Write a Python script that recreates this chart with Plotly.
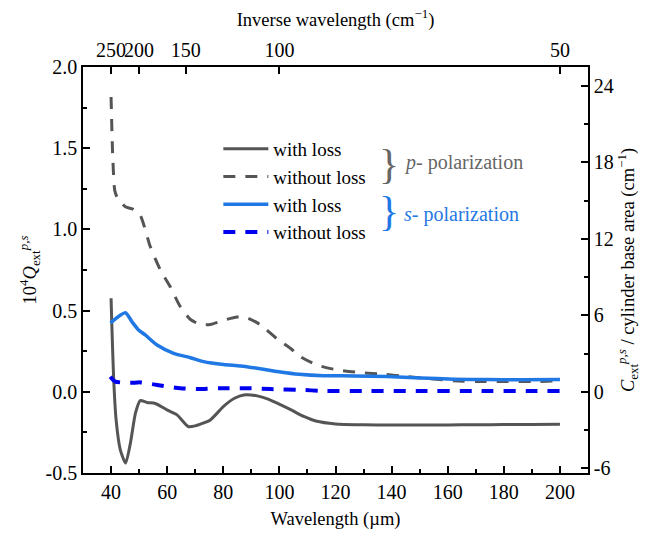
import plotly.graph_objects as go

# ---------------- data ----------------
# p-polarization, with loss (gray solid)
p_loss_x = [40, 40.3, 40.9, 41.8, 43.3, 45.2, 46.9, 48.7, 50.4, 52.8, 55.8, 59.9, 63.5,
            67.5, 70.0, 72.5, 75.4, 80.1, 84.0, 87.3, 92.1, 96.0, 99.2, 104.0, 108.7,
            113.0, 120, 130, 140, 150, 160, 170, 180, 190, 200]
p_loss_y = [0.576, 0.40, 0.093, -0.173, -0.357, -0.439, -0.316, -0.131, -0.054, -0.066,
            -0.072, -0.111, -0.142, -0.214, -0.210, -0.195, -0.173, -0.09, -0.04, -0.019,
            -0.025, -0.045, -0.07, -0.11, -0.152, -0.18, -0.198, -0.203, -0.205, -0.205,
            -0.204, -0.203, -0.202, -0.201, -0.200]

# p-polarization, without loss (gray dashed)
p_noloss_x = [40, 40.6, 41.3, 42.1, 45.1, 48.0, 50.4, 54.0, 57.6, 61.1, 64.7, 68.3, 71.8,
              75.4, 80.1, 84.9, 88.5, 93.5, 99.2, 103.9, 107.5, 113.4, 120.6, 128.9, 137.2,
              145.5, 153.9, 162.2, 170.5, 180, 190, 200]
p_noloss_y = [1.815, 1.446, 1.242, 1.20, 1.139, 1.123, 1.088, 0.893, 0.75, 0.647, 0.524,
              0.445, 0.415, 0.415, 0.44, 0.46, 0.455, 0.41, 0.325, 0.268, 0.216, 0.165,
              0.135, 0.118, 0.108, 0.094, 0.08, 0.068, 0.063, 0.063, 0.063, 0.067]

# s-polarization, with loss (blue solid)
s_loss_x = [39.8, 45.1, 47.5, 49.8, 52.2, 56.4, 62.3, 68.3, 73.0, 80.1, 86.1, 93.2, 100.4,
            107.0, 115.8, 126.5, 138.4, 150.3, 162.2, 174.1, 186.0, 200]
s_loss_y = [0.425, 0.487, 0.43, 0.381, 0.35, 0.288, 0.237, 0.21, 0.186, 0.168, 0.159,
            0.142, 0.122, 0.108, 0.099, 0.098, 0.094, 0.085, 0.078, 0.075, 0.074, 0.076]

# s-polarization, without loss (blue dashed)
s_noloss_x = [39.7, 41.5, 46.9, 50.4, 56.4, 64.7, 70.7, 79.0, 88.5, 96.8, 107.5, 115,
              130, 150, 170, 190, 200]
s_noloss_y = [0.093, 0.063, 0.055, 0.058, 0.042, 0.022, 0.017, 0.022, 0.022, 0.017,
              0.012, 0.006, 0.005, 0.005, 0.005, 0.005, 0.005]

# axes
x_range = [30, 210]
y_range = [-0.5, 2.0]
y_ticks = [-0.5, 0.0, 0.5, 1.0, 1.5, 2.0]
y_ticktext = ["-0.5", "0.0", "0.5", "1.0", "1.5", "2.0"]
right_scale = 12.74          # C_ext / base area (cm^-1) per unit of 10^4 Q_ext
right_ticks = [-6, 0, 6, 12, 18, 24]
right_ticktext = ["-6", "0", "6", "12", "18", "24"]
right_minor = [-3, 3, 9, 15, 21]
top_labels = [250, 200, 150, 100, 50]   # inverse wavelength, cm^-1

GRAY = "#555555"
GRAY_TXT = "#666666"
BLUE = "#1f78e4"
BLUE_D = "#0000f0"
FONT = "Liberation Serif, Times New Roman, serif"
FS_TICK = 20
FS_TITLE = 18.5
FS_LEG = 19
FS_POL = 20

fig = go.Figure()
fig.add_trace(go.Scatter(x=p_loss_x, y=p_loss_y, mode="lines", name="with loss",
                         line=dict(color=GRAY, width=3, shape="spline", smoothing=0.6)))
fig.add_trace(go.Scatter(x=p_noloss_x, y=p_noloss_y, mode="lines", name="without loss",
                         line=dict(color=GRAY, width=3, dash="12px,10px", shape="spline",
                                   smoothing=0.6)))
fig.add_trace(go.Scatter(x=s_loss_x, y=s_loss_y, mode="lines", name="with loss",
                         line=dict(color=BLUE, width=3.5, shape="spline", smoothing=0.6)))
fig.add_trace(go.Scatter(x=s_noloss_x, y=s_noloss_y, mode="lines", name="without loss",
                         line=dict(color=BLUE_D, width=4, dash="12px,10px", shape="spline",
                                   smoothing=0.6)))
# empty trace that creates the secondary (top / right) axes
fig.add_trace(go.Scatter(x=[None], y=[None], xaxis="x2", yaxis="y2", mode="lines",
                         showlegend=False, hoverinfo="skip"))

axis_common = dict(showline=True, linecolor="black", linewidth=1.5, ticks="inside",
                   ticklen=7, tickwidth=1.5, tickcolor="black", showgrid=False,
                   zeroline=False, tickangle=0,
                   tickfont=dict(family=FONT, size=FS_TICK, color="black"))
minor_common = dict(ticklen=4, tickwidth=1.5, ticks="inside", tickcolor="black")

fig.update_layout(
    width=649, height=537,
    margin=dict(l=83, r=61, t=67, b=64),
    paper_bgcolor="white", plot_bgcolor="white",
    font=dict(family=FONT, size=FS_TITLE, color="black"),
    showlegend=True,
    legend=dict(x=0.268, y=0.845, xanchor="left", yanchor="top",
                font=dict(family=FONT, size=FS_LEG, color="black"),
                bgcolor="rgba(0,0,0,0)", tracegroupgap=0, itemwidth=45),
    xaxis=dict(range=x_range, tick0=0, dtick=20,
               minor=dict(dtick=10, **minor_common),
               title=dict(text="Wavelength (µm)", font=dict(family=FONT, size=FS_TITLE),
                          standoff=10),
               **axis_common),
    xaxis2=dict(range=x_range, overlaying="x", side="top", anchor="y2",
                tickvals=[10000 / v for v in top_labels],
                ticktext=[str(v) for v in top_labels],
                title=dict(text="Inverse wavelength (cm<sup>−1</sup>)",
                           font=dict(family=FONT, size=FS_TITLE), standoff=8),
                **axis_common),
    yaxis=dict(range=y_range, tickvals=y_ticks, ticktext=y_ticktext,
               minor=dict(dtick=0.25, **minor_common),
               title=dict(text="10<sup>4</sup><i>Q</i><sub>ext</sub><sup><i>p,s</i></sup>",
                          font=dict(family=FONT, size=FS_TITLE), standoff=4),
               **axis_common),
    yaxis2=dict(range=[y_range[0] * right_scale, y_range[1] * right_scale],
                overlaying="y", side="right", anchor="x2",
                tickvals=right_ticks, ticktext=right_ticktext,
                minor=dict(tickvals=right_minor, **minor_common),
                title=dict(text="<i>C</i><sub>ext</sub><sup><i>p,s</i></sup> / cylinder base area (cm<sup>−1</sup>)",
                           font=dict(family=FONT, size=FS_TITLE), standoff=8),
                **axis_common),
)

# group braces and polarization labels
fig.add_annotation(x=0.605, y=0.762, xref="paper", yref="paper", text="}",
                   showarrow=False, font=dict(family=FONT, size=42, color=GRAY_TXT),
                   xanchor="center", yanchor="middle")
fig.add_annotation(x=0.632, y=0.766, xref="paper", yref="paper",
                   text="<i>p</i>- polarization", showarrow=False,
                   font=dict(family=FONT, size=FS_POL, color=GRAY_TXT),
                   xanchor="left", yanchor="middle")
fig.add_annotation(x=0.605, y=0.645, xref="paper", yref="paper", text="}",
                   showarrow=False, font=dict(family=FONT, size=42, color=BLUE),
                   xanchor="center", yanchor="middle")
fig.add_annotation(x=0.632, y=0.636, xref="paper", yref="paper",
                   text="<i>s</i>- polarization", showarrow=False,
                   font=dict(family=FONT, size=FS_POL, color=BLUE),
                   xanchor="left", yanchor="middle")

fig.write_html("out.html")
